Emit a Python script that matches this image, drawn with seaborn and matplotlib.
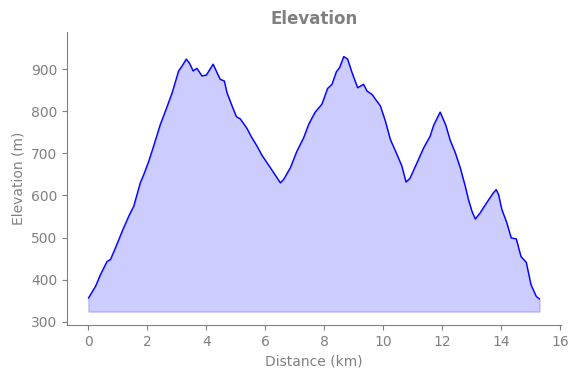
import matplotlib
matplotlib.use("Agg")
import matplotlib.pyplot as plt
import seaborn as sns
import pandas as pd

distance_km = [0.0, 0.24, 0.41, 0.63, 0.75, 0.92, 1.06, 1.17, 1.37, 1.54, 1.76, 1.88, 2.05, 2.21,
               2.44, 2.61, 2.84, 3.06, 3.18, 3.32, 3.43, 3.55, 3.68, 3.85, 4.0, 4.23, 4.36, 4.47,
               4.61, 4.70, 4.87, 5.02, 5.15, 5.38, 5.52, 5.72, 5.89, 6.17, 6.51, 6.62, 6.85, 7.07,
               7.30, 7.47, 7.69, 7.92, 8.11, 8.26, 8.41, 8.52, 8.66, 8.79, 8.94, 9.13, 9.33, 9.45,
               9.62, 9.73, 9.90, 10.07, 10.24, 10.46, 10.63, 10.77, 10.90, 11.03, 11.37, 11.59,
               11.71, 11.93, 12.12, 12.27, 12.44, 12.61, 12.78, 12.89, 13.01, 13.12, 13.29, 13.51,
               13.72, 13.83, 13.91, 14.02, 14.19, 14.34, 14.51, 14.67, 14.85, 15.01, 15.19, 15.30]
elevation_m = [356, 384, 412, 443, 448, 476, 500, 519, 551, 575, 630, 650, 682, 717,
               769, 800, 844, 896, 908, 924, 914, 896, 902, 884, 886, 912, 892, 876,
               872, 844, 813, 787, 782, 759, 740, 717, 695, 666, 630, 638, 666, 705,
               737, 769, 798, 817, 854, 864, 894, 904, 930, 924, 892, 856, 864, 848,
               840, 829, 813, 777, 733, 698, 670, 632, 640, 660, 713, 741,
               767, 798, 767, 731, 702, 666, 622, 590, 562, 544, 559, 583,
               605, 614, 602, 567, 535, 499, 497, 455, 441, 388, 360, 354]

df = pd.DataFrame({"Distance (km)": distance_km, "Elevation (m)": elevation_m})
base = min(elevation_m) - 30

sns.set_style("ticks")
plt.rcParams['font.family'] = ['DejaVu Sans']
gray = "#808080"

fig = plt.figure(figsize=(5.79, 3.78), dpi=100)
ax = fig.add_axes([0.116, 0.140, 0.853, 0.775])
ax.fill_between(df["Distance (km)"], df["Elevation (m)"], base, color="blue", alpha=0.2, linewidth=1)
sns.lineplot(data=df, x="Distance (km)", y="Elevation (m)", color="blue", linewidth=1.0, ax=ax)
ax.set_xlim(-0.72, 16.03)
ax.set_ylim(292, 988)
ax.set_xticks([0, 2, 4, 6, 8, 10, 12, 14, 16])
ax.set_yticks([300, 400, 500, 600, 700, 800, 900])
ax.set_title("Elevation", color=gray, fontweight="bold", fontsize=12)
ax.set_xlabel("Distance (km)", color=gray, fontsize=10)
ax.set_ylabel("Elevation (m)", color=gray, fontsize=10)
ax.tick_params(colors=gray, labelcolor=gray, labelsize=10)
for s in ["left", "bottom"]:
    ax.spines[s].set_color(gray)
sns.despine(ax=ax)
fig.savefig("out.png", dpi=100)
